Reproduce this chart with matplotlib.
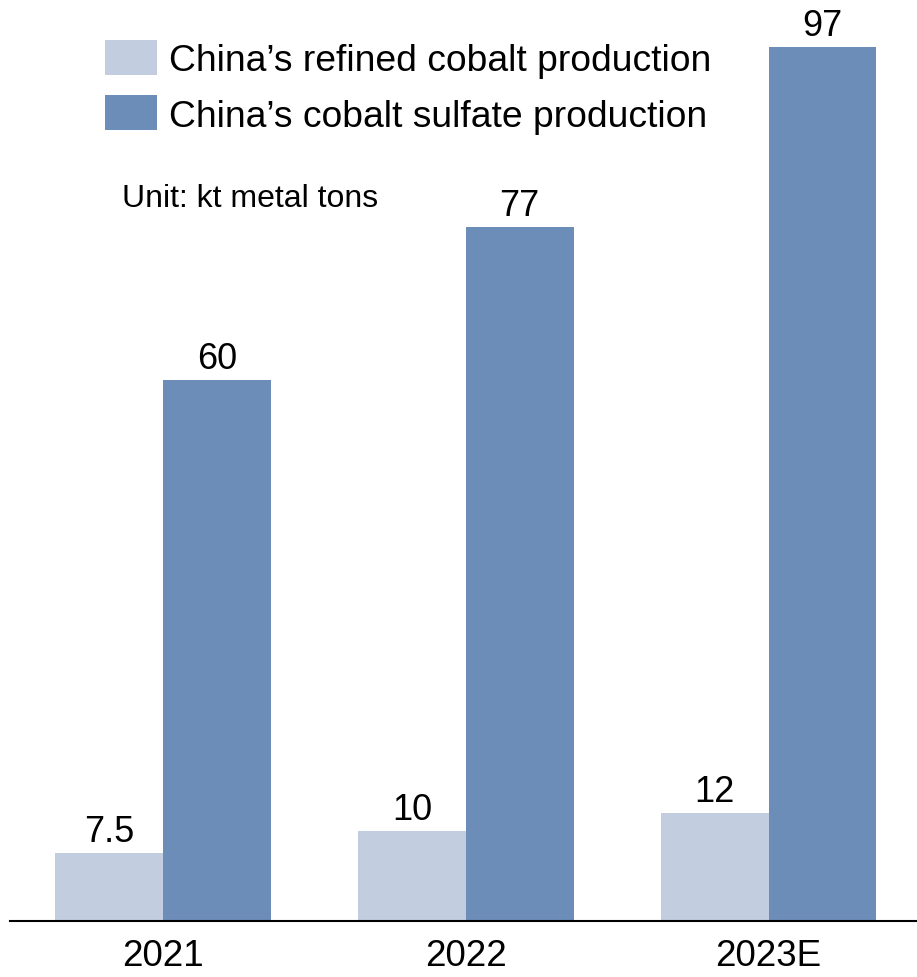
import numpy as np
import matplotlib
matplotlib.use("Agg")
import matplotlib.pyplot as plt

plt.rcParams['font.family'] = ['Liberation Sans', 'DejaVu Sans']

# data
years = ['2021', '2022', '2023E']
refined = [7.5, 10, 12]
sulfate = [60, 77, 97]
refined_labels = ['7.5', '10', '12']
sulfate_labels = ['60', '77', '97']
series_names = ["China\u2019s refined cobalt production",
                "China\u2019s cobalt sulfate production"]
unit_text = 'Unit: kt metal tons'

c_light = '#C2CDE0'
c_dark = '#6D8DB9'

fig = plt.figure(figsize=(9.17, 9.78), dpi=100)
ax = fig.add_axes([10/917, 1-922/978, 1-10/917, 922/978])

x = np.arange(len(years))
w = 0.356
b1 = ax.bar(x - w/2, refined, w, color=c_light, label=series_names[0])
b2 = ax.bar(x + w/2, sulfate, w, color=c_dark, label=series_names[1])

for bar, lab in zip(b1, refined_labels):
    ax.annotate(lab, (bar.get_x() + bar.get_width()/2, bar.get_height()),
                xytext=(0, 3), textcoords='offset points',
                ha='center', va='bottom', fontsize=26)
for bar, lab in zip(b2, sulfate_labels):
    ax.annotate(lab, (bar.get_x() + bar.get_width()/2, bar.get_height()),
                xytext=(0, 3), textcoords='offset points',
                ha='center', va='bottom', fontsize=26, annotation_clip=False)

ax.set_xlim(-0.505, 2.49)
ax.set_ylim(0, 102.3)
ax.set_xticks(x)
ax.set_xticklabels(years, fontsize=26.5)
ax.tick_params(axis='x', length=0, pad=12)
ax.set_yticks([])
for s in ['top', 'right', 'left']:
    ax.spines[s].set_visible(False)
ax.spines['bottom'].set_linewidth(1.5)
ax.spines['bottom'].set_color('black')

fig.legend(handles=[b1, b2], labels=series_names, loc='upper left',
           bbox_to_anchor=(105/917, 0.958), bbox_transform=fig.transFigure,
           frameon=False, fontsize=26.8, borderpad=0, borderaxespad=0,
           handlelength=1.41, handleheight=1.07, handletextpad=0.32,
           labelspacing=0.46)

fig.text(122/917, 1-207/978, unit_text, fontsize=23, ha='left', va='baseline')

fig.savefig('out.png', dpi=100)
